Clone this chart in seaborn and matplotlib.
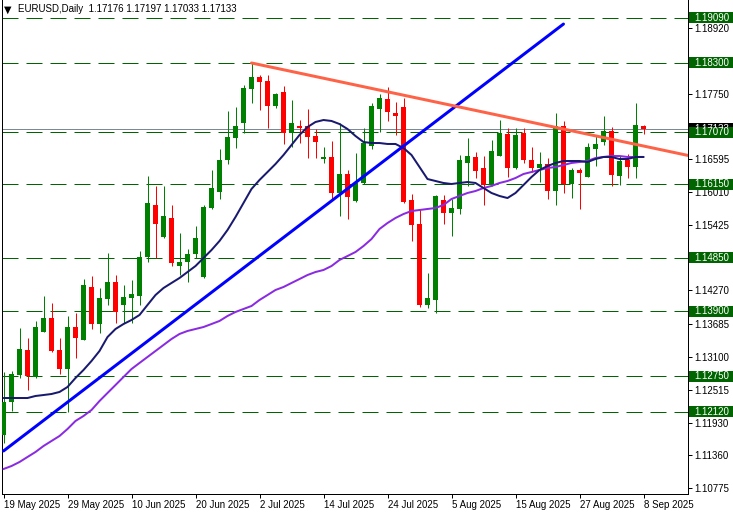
import matplotlib
matplotlib.use("Agg")
import matplotlib.pyplot as plt
import seaborn as sns
import numpy as np
import pandas as pd
from matplotlib.transforms import blended_transform_factory, ScaledTranslation
from matplotlib.patches import Rectangle

# ---------------- data (EURUSD daily, 19 May 2025 - 8 Sep 2025) ----------------
opens = [
    1.11713, 1.12297, 1.12774, 1.13216, 1.12739, 1.13535, 1.13783, 1.13216, 1.12880, 1.13623,
    1.13393, 1.14331, 1.13676, 1.14119, 1.14419, 1.14013, 1.14136, 1.14172, 1.14862, 1.15782,
    1.15215, 1.15552, 1.14702, 1.14773, 1.14915, 1.14508, 1.15728, 1.16012, 1.16578, 1.16967,
    1.17232, 1.17834, 1.18046, 1.17975, 1.17533, 1.17781, 1.17055, 1.17179, 1.17179, 1.17002,
    1.16595, 1.16631, 1.15994, 1.16330, 1.15852, 1.16171, 1.16825, 1.17480, 1.17657, 1.17409,
    1.17515, 1.15870, 1.15445, 1.14013, 1.14101, 1.15870, 1.15640, 1.15711, 1.16525, 1.16631,
    1.16436, 1.16135, 1.16648, 1.17038, 1.16436, 1.17055, 1.16578, 1.16436, 1.16507, 1.16029,
    1.17179, 1.16153, 1.16401, 1.16277, 1.16772, 1.16896, 1.17091, 1.16295, 1.16578, 1.16454,
    1.17176]
highs = [
    1.12827, 1.12845, 1.13606, 1.13429, 1.13730, 1.14172, 1.14048, 1.13429, 1.13818, 1.13871,
    1.14472, 1.14526, 1.14313, 1.14932, 1.14543, 1.14366, 1.14455, 1.14968, 1.16295, 1.16118,
    1.16118, 1.15782, 1.15286, 1.15003, 1.15410, 1.15782, 1.16401, 1.16772, 1.17444, 1.17515,
    1.17904, 1.18294, 1.18081, 1.18081, 1.17763, 1.17887, 1.17639, 1.17285, 1.17480, 1.17126,
    1.16808, 1.16914, 1.17232, 1.16401, 1.16701, 1.17144, 1.17586, 1.17745, 1.17869, 1.17604,
    1.17674, 1.15976, 1.15711, 1.14579, 1.15958, 1.15958, 1.15888, 1.16666, 1.16967, 1.16719,
    1.16648, 1.16931, 1.17285, 1.17144, 1.17144, 1.17144, 1.16808, 1.16719, 1.16613, 1.17409,
    1.17268, 1.16436, 1.16436, 1.16878, 1.17020, 1.17356, 1.17161, 1.16648, 1.16684, 1.17586,
    1.17197]
lows = [
    1.11571, 1.12137, 1.12721, 1.12509, 1.12721, 1.13535, 1.13181, 1.12792, 1.12120, 1.13075,
    1.13393, 1.13588, 1.13517, 1.14013, 1.13694, 1.13694, 1.13694, 1.14013, 1.14773, 1.14844,
    1.15198, 1.14702, 1.14543, 1.14419, 1.14844, 1.14490, 1.15711, 1.15888, 1.16507, 1.16790,
    1.17055, 1.17586, 1.17462, 1.17144, 1.17497, 1.16861, 1.16808, 1.16878, 1.16613, 1.16613,
    1.16525, 1.15888, 1.15587, 1.15534, 1.15835, 1.16153, 1.16772, 1.17073, 1.17268, 1.17020,
    1.15817, 1.15145, 1.13977, 1.13959, 1.13871, 1.15445, 1.15233, 1.15622, 1.16118, 1.16259,
    1.15782, 1.16118, 1.16648, 1.16277, 1.16418, 1.16525, 1.16365, 1.16188, 1.15888, 1.15782,
    1.15994, 1.15905, 1.15711, 1.16277, 1.16471, 1.16843, 1.16118, 1.16135, 1.16259, 1.16259,
    1.17033]
closes = [
    1.12297, 1.12792, 1.13234, 1.12757, 1.13623, 1.13783, 1.13199, 1.12880, 1.13623, 1.13429,
    1.14366, 1.13676, 1.14136, 1.14419, 1.13889, 1.14154, 1.14207, 1.14862, 1.15817, 1.15445,
    1.15587, 1.14756, 1.14773, 1.14915, 1.15198, 1.15746, 1.16082, 1.16578, 1.16984, 1.17179,
    1.17851, 1.18046, 1.17957, 1.17533, 1.17745, 1.17055, 1.17232, 1.17144, 1.16984, 1.16896,
    1.16631, 1.15994, 1.16330, 1.15923, 1.16171, 1.16878, 1.17533, 1.17674, 1.17427, 1.17356,
    1.15835, 1.15428, 1.14013, 1.14136, 1.15941, 1.15640, 1.15728, 1.16578, 1.16648, 1.16383,
    1.16135, 1.16737, 1.17055, 1.16436, 1.17020, 1.16578, 1.16436, 1.16507, 1.16029, 1.17179,
    1.16153, 1.16401, 1.16348, 1.16808, 1.16861, 1.17091, 1.16312, 1.16560, 1.16454, 1.17197,
    1.17133]
ma_fast = [
    1.12367, 1.12367, 1.12367, 1.12367, 1.12403, 1.12420, 1.12438, 1.12474, 1.12562, 1.12721,
    1.12863, 1.13022, 1.13199, 1.13446, 1.13588, 1.13676, 1.13747, 1.13836, 1.14013, 1.14189,
    1.14313, 1.14402, 1.14490, 1.14596, 1.14702, 1.14844, 1.14985, 1.15145, 1.15339, 1.15569,
    1.15817, 1.16065, 1.16224, 1.16365, 1.16507, 1.16666, 1.16843, 1.17020, 1.17161, 1.17250,
    1.17285, 1.17268, 1.17214, 1.17126, 1.17002, 1.16896, 1.16878, 1.16878, 1.16861, 1.16861,
    1.16790, 1.16666, 1.16454, 1.16241, 1.16206, 1.16171, 1.16153, 1.16171, 1.16188, 1.16171,
    1.16082, 1.15994, 1.15941, 1.15905, 1.15994, 1.16135, 1.16277, 1.16401, 1.16471, 1.16525,
    1.16560, 1.16560, 1.16560, 1.16542, 1.16595, 1.16631, 1.16631, 1.16595, 1.16595, 1.16631,
    1.16631]
ma_slow = [
    1.11111, 1.11164, 1.11235, 1.11324, 1.11412, 1.11518, 1.11607, 1.11695, 1.11819, 1.11961,
    1.12049, 1.12155, 1.12314, 1.12456, 1.12597, 1.12739, 1.12880, 1.12987, 1.13093, 1.13199,
    1.13305, 1.13411, 1.13500, 1.13553, 1.13588, 1.13623, 1.13676, 1.13730, 1.13818, 1.13889,
    1.13942, 1.13995, 1.14101, 1.14189, 1.14278, 1.14331, 1.14402, 1.14472, 1.14543, 1.14596,
    1.14632, 1.14702, 1.14809, 1.14879, 1.14950, 1.15056, 1.15180, 1.15357, 1.15463, 1.15552,
    1.15622, 1.15675, 1.15693, 1.15711, 1.15728, 1.15782, 1.15888, 1.15941, 1.15994, 1.16029,
    1.16082, 1.16118, 1.16171, 1.16206, 1.16259, 1.16330, 1.16365, 1.16401, 1.16436, 1.16454,
    1.16489, 1.16525, 1.16542, 1.16560, 1.16613, 1.16631, 1.16648, 1.16648, 1.16631, 1.16631,
    1.16631]

# trend lines: (bar index, price)
up_trend_idx = [0, 70]
up_trend_px = [1.11430, 1.18983]
down_trend_idx = [31, 80]
down_trend_px = [1.18294, 1.16825]

levels = [1.19090, 1.18300, 1.17070, 1.16150, 1.14850, 1.13900, 1.12750, 1.12120]
bid = 1.17133
price_ticks = [1.18920, 1.17750, 1.16595, 1.16010, 1.15425, 1.14270, 1.13685,
               1.13100, 1.12515, 1.11930, 1.11360, 1.10775]
date_tick_idx = [0, 8, 16, 24, 32, 40, 48, 56, 64, 72, 80]
date_labels = ["19 May 2025", "29 May 2025", "10 Jun 2025", "20 Jun 2025", "2 Jul 2025",
               "14 Jul 2025", "24 Jul 2025", "5 Aug 2025", "15 Aug 2025", "27 Aug 2025",
               "8 Sep 2025"]
title = "EURUSD,Daily  1.17176 1.17197 1.17033 1.17133"

# ---------------- styling ----------------
sns.set_style("white")
plt.rcParams['font.family'] = ['Liberation Sans', 'DejaVu Sans']
plt.rcParams['lines.scale_dashes'] = False

W, H = 733, 514
PX = 72 / 100.0   # points per pixel
FS = 7

fig = plt.figure(figsize=(W / 100, H / 100), dpi=100, facecolor='white')
ax = fig.add_axes([2 / W, 1 - 494 / H, 686 / W, 494 / H])
ax.set_facecolor('white')

df = pd.DataFrame({'i': np.arange(len(opens)), 'open': opens, 'high': highs,
                   'low': lows, 'close': closes, 'ma_fast': ma_fast, 'ma_slow': ma_slow})

ax.set_xlim(-0.1875, 85.5625)
ax.set_ylim(1.10669, 1.19408)

# horizontal levels
for lv in levels:
    ax.axhline(lv, color='#006400', lw=1.0 * PX, ls=(0, (16 * PX, 8 * PX)), zorder=2)
ax.axhline(bid, color='#7B8896', lw=1.0 * PX, zorder=2)

# candles
up = df['close'] >= df['open']
cols = np.where(up, '#008000', '#FF0000')
ax.vlines(df['i'], df['low'], df['high'], colors=cols, lw=1.0 * PX, zorder=3)
body_lo = np.minimum(df['open'], df['close'])
body_h = np.maximum((df['close'] - df['open']).abs(), 0.00019)
ax.bar(df['i'], body_h, bottom=body_lo, width=0.625, color=cols, lw=0, zorder=4)

# moving averages
sns.lineplot(data=df, x='i', y='ma_slow', color='#8A2BE2', lw=2 * PX, ax=ax,
             estimator=None, sort=False, zorder=5)
sns.lineplot(data=df, x='i', y='ma_fast', color='#191970', lw=2 * PX, ax=ax,
             estimator=None, sort=False, zorder=5)

# trend lines
sns.lineplot(x=up_trend_idx, y=up_trend_px, color='#0000FF', lw=3 * PX, ax=ax,
             estimator=None, sort=False, zorder=6)
slope = (down_trend_px[1] - down_trend_px[0]) / (down_trend_idx[1] - down_trend_idx[0])
xr = ax.get_xlim()[1]
ray_x = [down_trend_idx[0], xr]
ray_y = [down_trend_px[0], down_trend_px[0] + slope * (xr - down_trend_idx[0])]
sns.lineplot(x=ray_x, y=ray_y, color='#FF6347', lw=3 * PX, ax=ax,
             estimator=None, sort=False, zorder=6)

# axes styling
for s in ['left', 'right', 'bottom']:
    ax.spines[s].set_visible(True)
    ax.spines[s].set_color('black')
    ax.spines[s].set_linewidth(1.0 * PX)
ax.spines['top'].set_visible(False)
ax.set_xlabel('')
ax.set_ylabel('')

ax.yaxis.tick_right()
ax.set_yticks(price_ticks)
ax.set_yticklabels([f"{p:.5f}" for p in price_ticks])
ax.tick_params(axis='y', which='both', direction='out', length=4 * PX, width=1.0 * PX,
               pad=2, labelsize=FS, colors='black', left=False, right=True)

ax.set_xticks(date_tick_idx)
ax.set_xticklabels(date_labels)
ax.tick_params(axis='x', direction='out', length=4 * PX, width=1.0 * PX, pad=1.5,
               labelsize=FS, colors='black', bottom=True)
off = ScaledTranslation(0.5 / 100, 0, fig.dpi_scale_trans)
for lab in ax.get_xticklabels():
    lab.set_ha('left')
    lab.set_transform(lab.get_transform() + off)

# right-side labels
trans = blended_transform_factory(fig.transFigure, ax.transData)
bh = 11 * 0.0001769
ax.add_patch(Rectangle((689 / W, bid - bh / 2), (W - 689) / W, bh, transform=trans,
                       fc='black', ec='none', clip_on=False, zorder=8))
ax.text(694 / W, bid, f"{bid:.5f}", transform=trans, color='white', fontsize=FS,
        va='center', ha='left', clip_on=False, zorder=8.5)
for lv in levels:
    ax.add_patch(Rectangle((689 / W, lv - bh / 2), (W - 689) / W, bh, transform=trans,
                           fc='#006400', ec='none', clip_on=False, zorder=10))
    ax.text(694 / W, lv, f"{lv:.5f}", transform=trans, color='white', fontsize=FS,
            va='center', ha='left', clip_on=False, zorder=11)

# title
fig.text(4 / W, 1 - 9.5 / H, "▼", fontsize=7, family='DejaVu Sans', color='black',
         va='center', ha='left')
fig.text(18 / W, 1 - 9.5 / H, title, fontsize=FS, color='black', va='center', ha='left')

fig.savefig('out.png', dpi=100, facecolor='white')
